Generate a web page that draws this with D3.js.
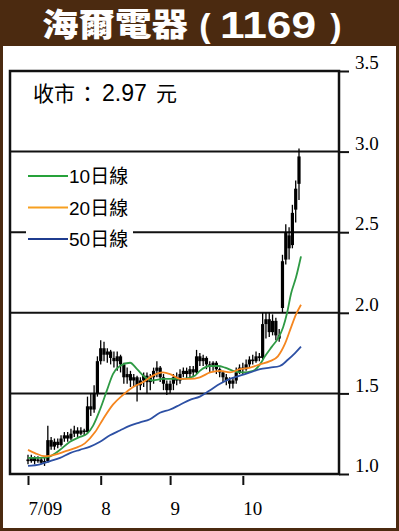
<!DOCTYPE html>
<html>
<head>
<meta charset="utf-8">
<script src="https://cdn.jsdelivr.net/npm/d3@7"></script>
<style>
  body { margin: 0; background: #fff; }
  svg { display: block; }
</style>
</head>
<body>
<script>
// 標題
const titleName = "海爾電器"
const titleCode = "1169"
const closeLabel = "收市"
const closePrice = "2.97"
const closeUnit = "元"

// 月份刻度 (交易日序號)
const monthTickDays = [0, 22, 43, 65]
const monthTickLabels = ["7/09", "8", "9", "10"]
const priceTicks = [1.0, 1.5, 2.0, 2.5, 3.0, 3.5]

// 每日 開 / 高 / 低 / 收
const opens = [1.09, 1.08, 1.10, 1.08, 1.09, 1.07, 1.08, 1.21, 1.17, 1.20, 1.18, 1.22, 1.24, 1.22, 1.25, 1.27, 1.25, 1.27, 1.26, 1.42,
  1.40, 1.50, 1.70, 1.78, 1.74, 1.76, 1.72, 1.70, 1.73, 1.68, 1.60, 1.62, 1.58, 1.60, 1.55, 1.58, 1.61, 1.57, 1.60, 1.64,
  1.66, 1.60, 1.56, 1.52, 1.56, 1.60, 1.58, 1.62, 1.64, 1.62, 1.65, 1.63, 1.73, 1.70, 1.72, 1.68, 1.67, 1.69, 1.65, 1.63,
  1.60, 1.58, 1.56, 1.58, 1.63, 1.66, 1.65, 1.68, 1.71, 1.70, 1.73, 1.72, 1.93, 1.96, 1.88, 1.95, 1.86, 2.03, 2.33, 2.48,
  2.42, 2.64, 2.80]
const highs = [1.12, 1.12, 1.11, 1.11, 1.10, 1.10, 1.30, 1.23, 1.22, 1.22, 1.24, 1.26, 1.26, 1.28, 1.30, 1.29, 1.29, 1.28, 1.48, 1.50,
  1.55, 1.73, 1.83, 1.82, 1.78, 1.77, 1.76, 1.76, 1.74, 1.69, 1.66, 1.64, 1.62, 1.61, 1.60, 1.63, 1.63, 1.62, 1.66, 1.70,
  1.67, 1.62, 1.58, 1.58, 1.62, 1.63, 1.65, 1.66, 1.66, 1.67, 1.67, 1.77, 1.75, 1.74, 1.73, 1.70, 1.70, 1.70, 1.66, 1.64,
  1.62, 1.60, 1.60, 1.66, 1.68, 1.69, 1.71, 1.73, 1.74, 1.76, 1.75, 2.00, 2.00, 2.00, 1.99, 1.97, 1.90, 2.36, 2.55, 2.53,
  2.67, 2.82, 3.02]
const lows = [1.06, 1.07, 1.06, 1.07, 1.06, 1.05, 1.07, 1.15, 1.15, 1.16, 1.17, 1.20, 1.20, 1.21, 1.23, 1.23, 1.24, 1.24, 1.25, 1.36,
  1.38, 1.48, 1.68, 1.70, 1.69, 1.68, 1.66, 1.64, 1.63, 1.56, 1.56, 1.54, 1.54, 1.45, 1.52, 1.54, 1.50, 1.52, 1.56, 1.60,
  1.57, 1.52, 1.49, 1.50, 1.52, 1.55, 1.56, 1.60, 1.59, 1.60, 1.60, 1.62, 1.67, 1.67, 1.65, 1.63, 1.64, 1.62, 1.60, 1.57,
  1.55, 1.53, 1.53, 1.56, 1.62, 1.62, 1.64, 1.66, 1.68, 1.69, 1.70, 1.71, 1.84, 1.85, 1.86, 1.83, 1.82, 2.00, 2.30, 2.33,
  2.40, 2.56, 2.70]
const closes = [1.08, 1.10, 1.08, 1.09, 1.07, 1.08, 1.21, 1.17, 1.20, 1.18, 1.22, 1.24, 1.22, 1.25, 1.27, 1.25, 1.27, 1.26, 1.42, 1.40,
  1.50, 1.70, 1.78, 1.74, 1.76, 1.72, 1.70, 1.73, 1.68, 1.60, 1.62, 1.58, 1.60, 1.55, 1.58, 1.61, 1.57, 1.60, 1.64, 1.66,
  1.60, 1.56, 1.52, 1.56, 1.60, 1.58, 1.62, 1.64, 1.62, 1.65, 1.63, 1.73, 1.70, 1.72, 1.68, 1.67, 1.69, 1.65, 1.63, 1.60,
  1.58, 1.56, 1.58, 1.63, 1.66, 1.65, 1.68, 1.71, 1.70, 1.73, 1.72, 1.93, 1.96, 1.88, 1.95, 1.86, 1.84, 2.32, 2.50, 2.40,
  2.62, 2.77, 2.97]

// 移動平均 [交易日, 價]
const ma10 = [[0, 1.10], [3.6, 1.10], [6.7, 1.11], [9.7, 1.15], [12.7, 1.20], [15.7, 1.23], [17.9, 1.25], [19.7, 1.30],
  [21.8, 1.40], [23.9, 1.52], [25.7, 1.62], [27.8, 1.67], [30.9, 1.69], [33, 1.65], [35.4, 1.60], [37.8, 1.58],
  [40.8, 1.59], [43.9, 1.59], [46.9, 1.59], [50.5, 1.61], [52, 1.64], [55.1, 1.67], [57.5, 1.67], [59.6, 1.66],
  [62, 1.64], [65, 1.63], [68.1, 1.64], [70.2, 1.68], [71.7, 1.73], [73.8, 1.79], [75.6, 1.84], [77.2, 1.91],
  [78.4, 2.00], [79.6, 2.12], [81.1, 2.22], [82.6, 2.35]]
const ma20 = [[0, 1.15], [2.1, 1.13], [5.1, 1.11], [8.2, 1.12], [11.2, 1.14], [14.2, 1.16], [17.2, 1.19], [20.3, 1.26],
  [22.7, 1.34], [25.7, 1.43], [28.7, 1.49], [31.8, 1.54], [34.8, 1.57], [37.8, 1.61], [40.8, 1.63], [43, 1.62],
  [46, 1.59], [49, 1.59], [52, 1.60], [55.1, 1.63], [58.1, 1.64], [61.1, 1.63], [64.1, 1.65], [67.2, 1.66],
  [70.2, 1.68], [73.2, 1.70], [75.6, 1.73], [77.8, 1.81], [79.6, 1.91], [81.1, 1.99], [82.6, 2.05]]
const ma50 = [[0, 1.05], [3.6, 1.06], [6.7, 1.08], [9.7, 1.10], [12.7, 1.13], [15.7, 1.15], [18.8, 1.17], [21.8, 1.20],
  [24.8, 1.24], [27.8, 1.27], [30.9, 1.30], [33.9, 1.32], [36.9, 1.34], [39.9, 1.38], [43, 1.40], [46, 1.43],
  [49, 1.46], [52, 1.48], [55.1, 1.52], [58.1, 1.56], [61.1, 1.59], [64.1, 1.61], [67.2, 1.63], [70.2, 1.65],
  [73.2, 1.66], [76.2, 1.67], [78.7, 1.71], [80.8, 1.75], [82.6, 1.79]]

const maSeries = [
  { name: "10日線", data: ma10, color: "#2e9a44", key: "#26a23a" },
  { name: "20日線", data: ma20, color: "#f5861f", key: "#f7a020" },
  { name: "50日線", data: ma50, color: "#2d50a4", key: "#1f3c8f" },
]

const W = 399, H = 531
const brown = "#4b2a10"
const serif = "'Liberation Serif', 'Times New Roman', serif"
const sans = "'Liberation Sans', Arial, 'Noto Sans CJK TC', sans-serif"
const cjk = "'Noto Sans CJK TC', sans-serif"

const svg = d3.select("body").append("svg").attr("width", W).attr("height", H)

// 外框 + 標題
svg.append("rect").attr("x", 1.5).attr("y", 1.5).attr("width", W - 3).attr("height", H - 3)
  .attr("fill", "#fff").attr("stroke", brown).attr("stroke-width", 3)
svg.append("rect").attr("x", 0).attr("y", 0).attr("width", W).attr("height", 46).attr("fill", brown)
const tg = svg.append("g").attr("fill", "#fff")
tg.append("text").attr("x", 42).attr("y", 36).attr("font-family", cjk).attr("font-weight", 900)
  .attr("font-size", 32).attr("textLength", 146).attr("lengthAdjust", "spacingAndGlyphs").text(titleName)
tg.append("text").attr("x", 205).attr("y", 37).attr("text-anchor", "middle").attr("font-family", sans)
  .attr("font-weight", 700).attr("font-size", 34).text("(")
tg.append("text").attr("x", 268).attr("y", 38).attr("text-anchor", "middle").attr("font-family", sans)
  .attr("font-weight", 700).attr("font-size", 36).attr("textLength", 96).attr("lengthAdjust", "spacingAndGlyphs").text(titleCode)
tg.append("text").attr("x", 336).attr("y", 37).attr("text-anchor", "middle").attr("font-family", sans)
  .attr("font-weight", 700).attr("font-size", 34).text(")")

const plot = { left: 10, right: 339, top: 71, bottom: 474 }
const x = d3.scaleLinear().domain([0, 82]).range([28, 299])
const y = d3.scaleLinear().domain([1, 3.5]).range([plot.bottom, plot.top])

// 橫線
svg.append("g").selectAll("line").data(priceTicks.slice(1, -1)).join("line")
  .attr("x1", plot.left).attr("x2", plot.right)
  .attr("y1", d => y(d)).attr("y2", d => y(d))
  .attr("stroke", "#111").attr("stroke-width", 2)

// 陰陽燭 (全黑)
const candles = d3.range(opens.length)
const cg = svg.append("g")
cg.selectAll("line").data(candles).join("line")
  .attr("x1", i => x(i)).attr("x2", i => x(i))
  .attr("y1", i => y(highs[i])).attr("y2", i => y(lows[i]))
  .attr("stroke", "#000").attr("stroke-width", 1.3)
cg.selectAll("rect").data(candles).join("rect")
  .attr("x", i => x(i) - 1.6).attr("width", 3.2)
  .attr("y", i => y(Math.max(opens[i], closes[i])))
  .attr("height", i => Math.max(1.5, Math.abs(y(opens[i]) - y(closes[i]))))
  .attr("fill", "#000")

// 移動平均線
const line = d3.line().x(d => x(d[0])).y(d => y(d[1])).curve(d3.curveMonotoneX)
svg.append("g").selectAll("path").data(maSeries).join("path")
  .attr("d", d => line(d.data)).attr("fill", "none")
  .attr("stroke", d => d.color).attr("stroke-width", 1.8)

// 圖例
const legend = svg.append("g").selectAll("g").data(maSeries).join("g")
  .attr("transform", (d, i) => `translate(0,${176 + i * 31.5})`)
legend.append("rect").attr("x", 26).attr("y", -12).attr("width", 107).attr("height", 24).attr("fill", "#fff")
legend.append("line").attr("x1", 28).attr("x2", 68).attr("stroke", d => d.key).attr("stroke-width", 2)
legend.append("text").attr("x", 69).attr("y", 7).attr("font-family", sans).attr("font-size", 19)
  .attr("fill", "#000").text(d => d.name)

// 收市價
const note = svg.append("text").attr("y", 101).attr("font-family", sans).attr("font-size", 21).attr("fill", "#000")
note.append("tspan").attr("x", 33).attr("font-family", cjk).text(closeLabel)
note.append("tspan").attr("x", 77).attr("font-family", cjk).text("：")
note.append("tspan").attr("x", 102).attr("font-size", 23).text(closePrice)
note.append("tspan").attr("x", 156).attr("font-family", cjk).text(closeUnit)

// 框
svg.append("rect").attr("x", plot.left).attr("y", plot.top)
  .attr("width", plot.right - plot.left).attr("height", plot.bottom - plot.top)
  .attr("fill", "none").attr("stroke", "#111").attr("stroke-width", 2.5)

// 價格軸
const yAxis = svg.append("g").attr("transform", `translate(${plot.right},0)`)
  .call(d3.axisRight(y).tickValues(priceTicks).tickFormat(d3.format(".1f")).tickSize(10).tickPadding(6))
yAxis.select(".domain").remove()
yAxis.selectAll("line").attr("stroke", "#111").attr("stroke-width", 2)
yAxis.selectAll("text").attr("font-family", serif).attr("font-size", 19).attr("fill", "#000")
  .attr("dy", "-0.12em")

// 月份軸
const xAxis = svg.append("g").attr("transform", `translate(0,${plot.bottom + 2})`)
  .call(d3.axisBottom(x).tickValues(monthTickDays).tickFormat((d, i) => monthTickLabels[i]).tickSize(9).tickPadding(17))
xAxis.select(".domain").remove()
xAxis.selectAll("line").attr("stroke", "#111").attr("stroke-width", 2)
xAxis.selectAll("text").attr("font-family", serif).attr("font-size", 19).attr("fill", "#000")
  .attr("text-anchor", "start")
</script>
</body>
</html>
